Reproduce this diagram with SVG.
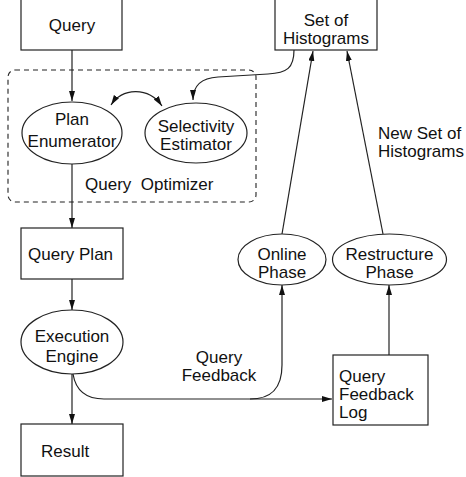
<svg xmlns="http://www.w3.org/2000/svg" width="466" height="477" viewBox="0 0 466 477">
<defs>
<marker id="ah" markerUnits="userSpaceOnUse" markerWidth="11" markerHeight="7" refX="10" refY="3" orient="auto-start-reverse">
<path d="M0,0 L10,3 L0,6 z" fill="#111"/>
</marker>
<style>
.box{fill:#fff;stroke:#222;stroke-width:1.2}
.t{font-family:"Liberation Sans",Arial,sans-serif;font-size:17px;fill:#111}
.c{text-anchor:middle}
.e{fill:none;stroke:#222;stroke-width:1.2}
.a{marker-end:url(#ah)}
</style>
</defs>
<rect width="466" height="477" fill="#fff"/>
<g id="optimizer">
<rect x="8" y="70" width="248" height="132" rx="7" fill="none" stroke="#222" stroke-width="1.1" stroke-dasharray="5,4"/>
<text class="t" x="85" y="190" xml:space="preserve">Query  Optimizer</text>
</g>
<g id="connectors">
<path class="e a" d="M72,50 L72,101"/>
<path class="e a" d="M72,164 L72,228"/>
<path class="e a" d="M72,279 L72,310"/>
<path class="e a" d="M72,374 L72,424"/>
<path class="e a" d="M111,105 C122,88 148,86 162,106" style="marker-start:url(#ah)"/>
<path class="e a" d="M294,50 C294,68 287,73 268,74 L218,77 C200,78 193,86 193,100"/>
<path class="e a" d="M73,374 C76,392 88,399 104,399 L332,399"/>
<path class="e a" d="M250,399 C270,399 282,390 282,365 L282,285"/>
<path class="e a" d="M389,355 L389,285"/>
<path class="e a" d="M282,234 L313,51"/>
<path class="e a" d="M383,234 L347,51"/>
</g>
<g id="query">
<rect class="box" x="21" y="-1" width="101" height="51"/>
<text class="t c" x="72" y="31">Query</text>
</g>
<g id="histograms">
<rect class="box" x="275" y="-1" width="102" height="51"/>
<text class="t c" x="326" y="26">Set of</text>
<text class="t c" x="326" y="44">Histograms</text>
</g>
<g id="plan-enumerator">
<ellipse class="box" cx="72" cy="133" rx="50" ry="31"/>
<text class="t c" x="72" y="125">Plan</text>
<text class="t c" x="72" y="147">Enumerator</text>
</g>
<g id="selectivity-estimator">
<ellipse class="box" cx="196" cy="133" rx="51" ry="30"/>
<text class="t c" x="196" y="132">Selectivity</text>
<text class="t c" x="196" y="150">Estimator</text>
</g>
<g id="query-plan">
<rect class="box" x="21" y="228" width="102" height="51"/>
<text class="t" x="28" y="260">Query Plan</text>
</g>
<g id="execution-engine">
<ellipse class="box" cx="72" cy="342" rx="51" ry="32"/>
<text class="t c" x="72" y="342">Execution</text>
<text class="t c" x="72" y="362">Engine</text>
</g>
<g id="result">
<rect class="box" x="21" y="424" width="102" height="52"/>
<text class="t" x="41" y="457">Result</text>
</g>
<g id="online-phase">
<ellipse class="box" cx="282" cy="259.5" rx="44" ry="25.5"/>
<text class="t c" x="282" y="260">Online</text>
<text class="t c" x="282" y="278">Phase</text>
</g>
<g id="restructure-phase">
<ellipse class="box" cx="389.5" cy="259.5" rx="57" ry="25.5"/>
<text class="t c" x="389.5" y="260">Restructure</text>
<text class="t c" x="389.5" y="278">Phase</text>
</g>
<g id="feedback-log">
<rect class="box" x="333" y="355" width="95" height="70"/>
<text class="t" x="339" y="382">Query</text>
<text class="t" x="339" y="400">Feedback</text>
<text class="t" x="339" y="418">Log</text>
</g>
<g id="labels">
<text class="t c" x="219" y="363">Query</text>
<text class="t c" x="219" y="381">Feedback</text>
<text class="t" x="378" y="139">New Set of</text>
<text class="t" x="378" y="157">Histograms</text>
</g>
</svg>
